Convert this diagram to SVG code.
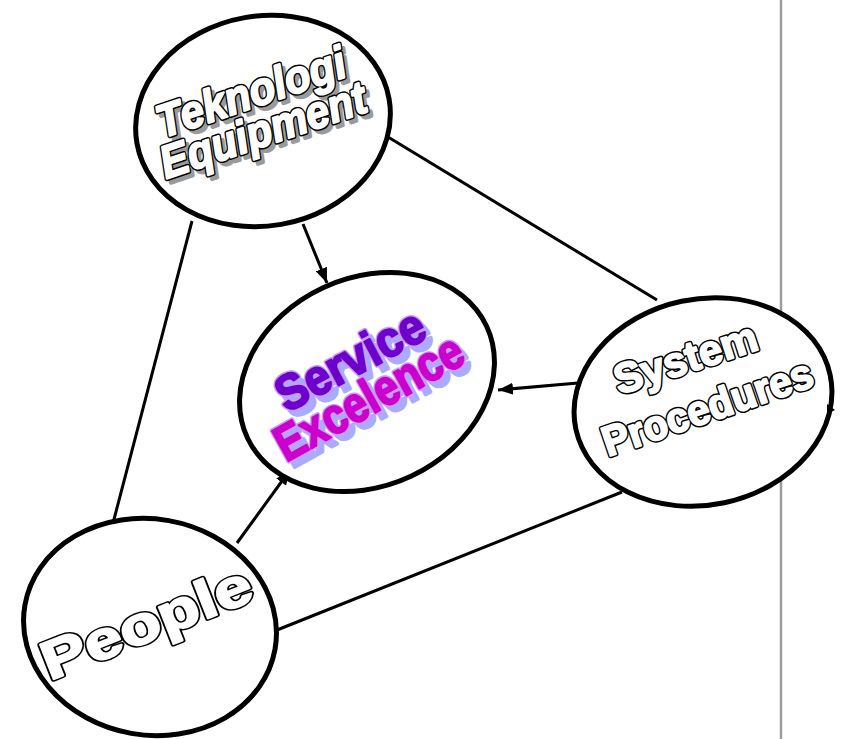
<svg xmlns="http://www.w3.org/2000/svg" width="841" height="739" viewBox="0 0 841 739">
  <style>
    .link { stroke: #000; stroke-width: 3; fill: none; }
    .node { fill: #fff; stroke: #000; stroke-width: 5; }
    .lbl { font-family: "Liberation Sans", Arial, sans-serif; font-weight: bold; text-anchor: middle; }
    .rim { fill: #000; stroke: #000; stroke-width: 5; stroke-linejoin: round; }
    .face { fill: #fff; stroke: #fff; stroke-width: 2; stroke-linejoin: round; }
    .shade { fill: #9a9a9a; stroke: #9a9a9a; stroke-width: 4; stroke-linejoin: round; }
    .seRim { fill: #c99cff; stroke: #c99cff; stroke-width: 5; stroke-linejoin: round; }
    .seShade { fill: #aaaaff; stroke: #aaaaff; stroke-width: 4; stroke-linejoin: round; }
  </style>
  <defs>
    <marker id="arrow" markerUnits="userSpaceOnUse" markerWidth="15" markerHeight="12" refX="15" refY="6" orient="auto">
      <path d="M0,0 L15,6 L0,12 z" fill="#000"/>
    </marker>
  </defs>

  <rect width="841" height="739" fill="#fff"/>

  <!-- page divider -->
  <line x1="781" y1="0" x2="781" y2="739" stroke="#9c9c9c" stroke-width="2.5"/>

  <!-- connectors -->
  <g id="connectors">
    <line class="link" x1="388" y1="137" x2="657" y2="300"/>
    <line class="link" x1="192" y1="221" x2="112" y2="527"/>
    <line class="link" x1="272" y1="632" x2="622" y2="492"/>
    <line class="link" x1="303" y1="224" x2="327" y2="283" marker-end="url(#arrow)"/>
    <line class="link" x1="578" y1="383" x2="498" y2="390" marker-end="url(#arrow)"/>
    <line class="link" x1="237" y1="543" x2="290" y2="470" marker-end="url(#arrow)"/>
  </g>

  <!-- Teknologi / Equipment -->
  <g id="node-teknologi">
    <ellipse class="node" cx="263" cy="121" rx="128" ry="105" transform="rotate(-10 263 121)"/>
    <g class="lbl" font-size="46" font-style="italic">
      <text class="shade" transform="translate(260,111) rotate(-18.5)" textLength="197" lengthAdjust="spacingAndGlyphs">Teknologi</text>
      <text class="shade" transform="translate(272,149) rotate(-18.5)" textLength="215" lengthAdjust="spacingAndGlyphs">Equipment</text>
      <text class="rim" transform="translate(256,107) rotate(-18.5)" textLength="197" lengthAdjust="spacingAndGlyphs">Teknologi</text>
      <text class="rim" transform="translate(268,145) rotate(-18.5)" textLength="215" lengthAdjust="spacingAndGlyphs">Equipment</text>
      <text class="face" transform="translate(256,107) rotate(-18.5)" textLength="197" lengthAdjust="spacingAndGlyphs">Teknologi</text>
      <text class="face" transform="translate(268,145) rotate(-18.5)" textLength="215" lengthAdjust="spacingAndGlyphs">Equipment</text>
    </g>
  </g>

  <!-- Service Excelence -->
  <g id="node-service">
    <ellipse class="node" cx="367" cy="382" rx="132" ry="104" transform="rotate(-25 367 382)"/>
    <g class="lbl" font-size="50">
      <text class="seShade" transform="translate(364,381) rotate(-28)" textLength="162" lengthAdjust="spacingAndGlyphs">Service</text>
      <text class="seShade" transform="translate(383,418) rotate(-29)" textLength="208" lengthAdjust="spacingAndGlyphs">Excelence</text>
      <text class="seRim" transform="translate(358,375) rotate(-28)" textLength="162" lengthAdjust="spacingAndGlyphs">Service</text>
      <text class="seRim" transform="translate(377,412) rotate(-29)" textLength="208" lengthAdjust="spacingAndGlyphs">Excelence</text>
      <text transform="translate(358,375) rotate(-28)" textLength="162" lengthAdjust="spacingAndGlyphs" fill="#6e00cc" stroke="#6e00cc" stroke-width="2" stroke-linejoin="round">Service</text>
      <text transform="translate(377,412) rotate(-29)" textLength="208" lengthAdjust="spacingAndGlyphs" fill="#cc00cc" stroke="#cc00cc" stroke-width="2" stroke-linejoin="round">Excelence</text>
    </g>
  </g>

  <!-- System / Procedures -->
  <g id="node-system">
    <ellipse class="node" cx="703" cy="402" rx="130" ry="103" transform="rotate(-12 703 402)"/>
    <polygon points="827,404 835,410 827,414" fill="#000"/>
    <g class="lbl" font-size="42">
      <text class="rim" transform="translate(690,372) rotate(-18)" textLength="148" lengthAdjust="spacingAndGlyphs">System</text>
      <text class="rim" transform="translate(712,421) rotate(-19)" textLength="220" lengthAdjust="spacingAndGlyphs">Procedures</text>
      <text class="face" transform="translate(690,372) rotate(-18)" textLength="148" lengthAdjust="spacingAndGlyphs">System</text>
      <text class="face" transform="translate(712,421) rotate(-19)" textLength="220" lengthAdjust="spacingAndGlyphs">Procedures</text>
    </g>
  </g>

  <!-- People -->
  <g id="node-people">
    <ellipse class="node" cx="150" cy="627" rx="127" ry="108" transform="rotate(10 150 627)"/>
    <g class="lbl" font-size="54">
      <text class="rim" transform="translate(153,640) rotate(-21.5)" textLength="222" lengthAdjust="spacingAndGlyphs">People</text>
      <text class="face" transform="translate(153,640) rotate(-21.5)" textLength="222" lengthAdjust="spacingAndGlyphs">People</text>
    </g>
  </g>
</svg>
